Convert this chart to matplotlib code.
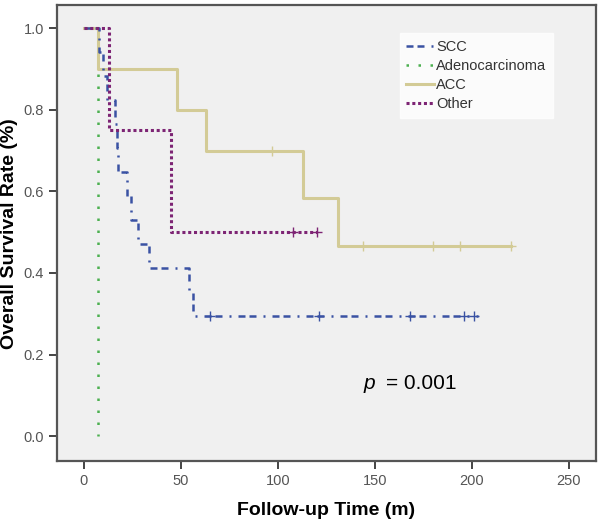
import numpy as np
import matplotlib
matplotlib.use("Agg")
import matplotlib.pyplot as plt
from matplotlib.lines import Line2D

plt.rcParams["font.family"] = ["Liberation Sans", "DejaVu Sans"]

# Kaplan-Meier step curves (time in months, survival fraction)
scc_times = [0, 8, 10, 12, 16, 17, 17.5, 22, 24, 28, 33.5, 54, 56, 203]
scc_surv = [1.0, 0.941, 0.882, 0.824, 0.765, 0.706, 0.647, 0.588, 0.529, 0.471, 0.412, 0.353, 0.294, 0.294]
scc_censor = [65, 121, 168, 196, 201]

adeno_times = [0, 7]
adeno_surv = [1.0, 0.0]
adeno_censor = []

acc_times = [0, 7, 48, 63, 113, 131, 220]
acc_surv = [1.0, 0.9, 0.8, 0.7, 0.583, 0.467, 0.467]
acc_censor = [97, 144, 180, 194, 220]

other_times = [0, 13, 45, 120]
other_surv = [1.0, 0.75, 0.5, 0.5]
other_censor = [108, 120]

groups = ["SCC", "Adenocarcinoma", "ACC", "Other"]
p_value = "= 0.001"

styles = {
    "SCC": dict(color="#3a52a3", lw=1.8, ls=(0, (2.8, 1.6, 2.8, 2.8, 0.8, 2.8))),
    "Adenocarcinoma": dict(color="#4cb050", lw=1.8, ls=(0, (1, 3.8))),
    "ACC": dict(color="#d3cb96", lw=2.2, ls="-"),
    "Other": dict(color="#7d2474", lw=2.2, ls=(0, (1, 0.9))),
}

data = {
    "SCC": (scc_times, scc_surv, scc_censor),
    "Adenocarcinoma": (adeno_times, adeno_surv, adeno_censor),
    "ACC": (acc_times, acc_surv, acc_censor),
    "Other": (other_times, other_surv, other_censor),
}

fig = plt.figure(figsize=(6, 5.27), dpi=100)
ax = fig.add_axes([0.095, 0.125, 0.898, 0.865])
ax.set_facecolor("#f0f0f0")

draw_order = ["Adenocarcinoma", "ACC", "SCC", "Other"]
for name in draw_order:
    t, s, c = data[name]
    st = styles[name]
    ax.step(t, s, where="post", color=st["color"], lw=st["lw"], linestyle=st["ls"], zorder=2)
    if c:
        idx = np.searchsorted(t, c, side="right") - 1
        cy = np.array(s)[idx]
        ax.plot(c, cy, linestyle="none", marker="+", ms=7, mew=1.0, color=st["color"], zorder=3)

ax.set_xlim(-13.9, 263.9)
ax.set_ylim(-0.061, 1.056)
ax.set_xticks([0, 50, 100, 150, 200, 250])
ax.set_yticks([0.0, 0.2, 0.4, 0.6, 0.8, 1.0])
ax.set_yticklabels(["0.0", "0.2", "0.4", "0.6", "0.8", "1.0"])
ax.tick_params(direction="out", length=6, width=1.4, color="#444444",
               labelcolor="#555555", labelsize=10.5)
for sp in ax.spines.values():
    sp.set_color("#555555")
    sp.set_linewidth(1.6)

ax.set_xlabel("Follow-up Time (m)", fontsize=14, fontweight="bold", labelpad=10)
ax.set_ylabel("Overall Survival Rate (%)", fontsize=14, fontweight="bold", labelpad=4)

ax.text(144, 0.13, "p", style="italic", fontsize=15, ha="left", va="center")
ax.text(192, 0.13, p_value, fontsize=15, ha="right", va="center")

handles = [Line2D([], [], color=styles[g]["color"], lw=styles[g]["lw"], linestyle=styles[g]["ls"]) for g in groups]
leg = ax.legend(handles, groups, loc="upper right", bbox_to_anchor=(0.92, 0.939),
                borderaxespad=0, fontsize=10.5, frameon=True, fancybox=False,
                handlelength=1.9, handletextpad=0.15, borderpad=0.45, labelspacing=0.36)
leg.get_frame().set_facecolor("white")
leg.get_frame().set_edgecolor("white")
for txt in leg.get_texts():
    txt.set_color("#333333")

fig.savefig("out.png", dpi=100)
